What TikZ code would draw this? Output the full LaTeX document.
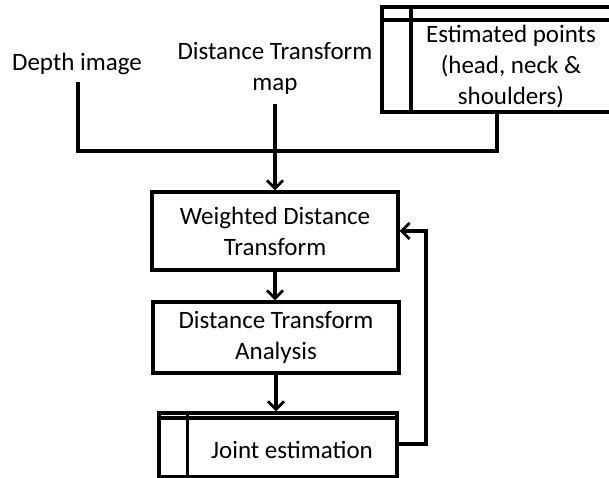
\documentclass[tikz,border=0pt]{standalone}
\usepackage{fontspec}
\setmainfont{Carlito}
\usetikzlibrary{arrows.meta}
\begin{document}
\begin{tikzpicture}[x=1pt,y=-1pt,
  font=\fontsize{25}{31}\selectfont,
  lbl/.style={align=center,inner sep=0pt},
  stage/.style={draw,line width=3.3pt,align=center,inner sep=0pt},
  wire/.style={line width=3.3pt},
  flow/.style={line width=3.3pt,-{Straight Barb[length=8pt,width=16pt,line width=2.8pt]}}]
\useasboundingbox (0,0) rectangle (609,478);

% data store with the estimated upper-body points (runs off the right edge)
\begin{scope}
\clip (0,0) rectangle (609,478);
\draw[wire] (382,7) rectangle (620,112);
\draw[wire] (382,20) -- (620,20);
\draw[wire] (411,7) -- (411,112);
\end{scope}
\node[lbl] (est) at (511,67) {Estimated points\\(head, neck \&\\shoulders)};
\coordinate (estb) at (497,112);

% inputs
\node[lbl] (depth) at (77,64) {Depth image};
\node[lbl] (dtmap) at (275,68) {Distance Transform\\map};
\coordinate (depthb) at (78,82);
\coordinate (dtmapb) at (275,104);

% processing stages
\node[stage,minimum width=246pt,minimum height=78pt] (wdt) at (275,231)
  {Weighted Distance\\Transform};
\node[stage,minimum width=246pt,minimum height=71pt] (dta) at (276,337.5)
  {Distance Transform\\Analysis};
\node[stage,minimum width=238pt,minimum height=64pt] (je) at (278,445) {};
\draw[wire] (je.north west) ++(0,6.5) -- ++(238,0);
\draw[wire] (je.north west) ++(30,0) -- ++(0,64);
\node[lbl] (jet) at (292,450) {Joint estimation};

% merging the three inputs
\coordinate (bus) at (275,151);
\draw[wire] (depthb) |- (bus);
\draw[wire] (estb) |- (bus);
\draw[flow] (dtmapb) -- (wdt.north);
\draw[flow] (wdt.south) -- (wdt.south |- dta.north);
\draw[flow] (dta.south) -- (dta.south |- je.north);

% feedback loop
\coordinate (loop) at (426,444);
\draw[flow] (je.east |- loop) -- (loop) |- (wdt.east |- 0,231);
\end{tikzpicture}
\end{document}
